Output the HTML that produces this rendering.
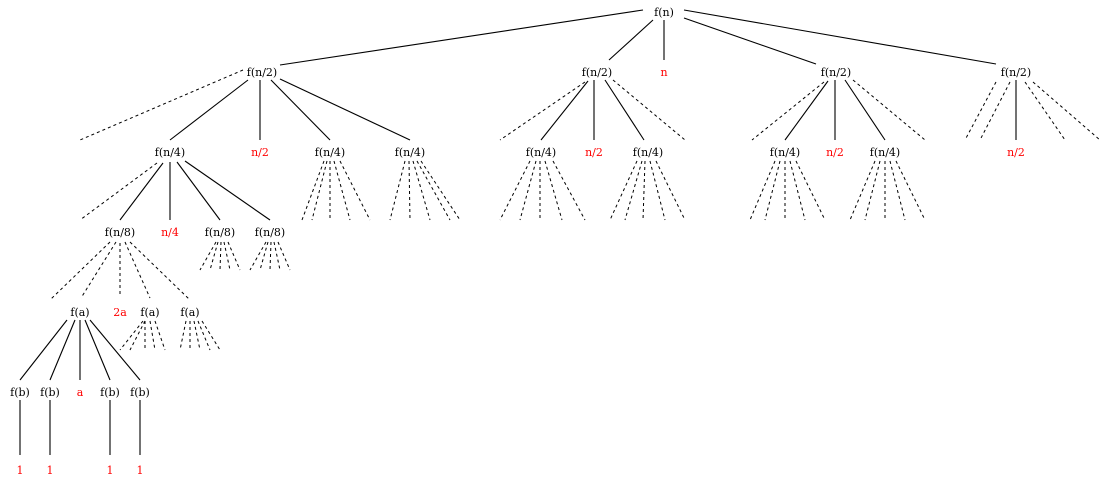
<!DOCTYPE html>
<html><head><meta charset="utf-8"><style>
body{margin:0;background:#fff}
svg text{font-family:"DejaVu Serif","Liberation Serif",serif;font-size:11px;text-anchor:middle;fill:#000}
svg text.r{fill:#f00}
line{stroke:#000;stroke-width:1.1}
line.d{stroke-dasharray:3,3;stroke-width:1}
</style></head><body>
<svg width="1102" height="480" viewBox="0 0 1102 480" xmlns="http://www.w3.org/2000/svg">
<!-- root -->
<text x="664" y="16">f(n)</text>
<line x1="643" y1="10" x2="280" y2="65"/>
<line x1="653" y1="20" x2="609" y2="60"/>
<line x1="664" y1="20" x2="664" y2="60"/>
<line x1="684" y1="18" x2="816" y2="64"/>
<line x1="684" y1="10" x2="996" y2="64"/>
<!-- level 1 -->
<text x="262" y="76">f(n/2)</text>
<text x="597" y="76">f(n/2)</text>
<text x="664" y="76" class="r">n</text>
<text x="836" y="76">f(n/2)</text>
<text x="1016" y="76">f(n/2)</text>
<!-- left f(n/2) -->
<line class="d" x1="243" y1="70" x2="80" y2="140"/>
<line x1="248" y1="80" x2="170" y2="140"/>
<line x1="260" y1="80" x2="260" y2="140"/>
<line x1="271" y1="80" x2="330" y2="140"/>
<line x1="280" y1="79" x2="410" y2="140"/>
<text x="170" y="156">f(n/4)</text>
<text x="260" y="156" class="r">n/2</text>
<text x="330" y="156">f(n/4)</text>
<text x="410" y="156">f(n/4)</text>
<!-- f(n/4) 330 fan -->
<line class="d" x1="324" y1="161" x2="302" y2="220"/>
<line class="d" x1="327" y1="161" x2="312" y2="220"/>
<line class="d" x1="330" y1="161" x2="330" y2="220"/>
<line class="d" x1="334" y1="161" x2="350" y2="220"/>
<line class="d" x1="340" y1="161" x2="370" y2="220"/>
<!-- f(n/4) 410 fan -->
<line class="d" x1="405" y1="161" x2="390" y2="220"/>
<line class="d" x1="409" y1="161" x2="410" y2="220"/>
<line class="d" x1="413" y1="161" x2="430" y2="220"/>
<line class="d" x1="417" y1="161" x2="450" y2="220"/>
<line class="d" x1="421" y1="161" x2="460" y2="220"/>
<!-- f(n/4) 170 -->
<line class="d" x1="157" y1="163" x2="80" y2="220"/>
<line x1="163" y1="163" x2="120" y2="220"/>
<line x1="170" y1="162" x2="170" y2="220"/>
<line x1="177" y1="162" x2="220" y2="220"/>
<line x1="185" y1="161" x2="270" y2="220"/>
<text x="120" y="236">f(n/8)</text>
<text x="170" y="236" class="r">n/4</text>
<text x="220" y="236">f(n/8)</text>
<text x="270" y="236">f(n/8)</text>
<!-- f(n/8) 220 / 270 fans -->
<line class="d" x1="216" y1="242" x2="200" y2="270"/>
<line class="d" x1="218" y1="242" x2="210" y2="270"/>
<line class="d" x1="221" y1="242" x2="220" y2="270"/>
<line class="d" x1="224" y1="242" x2="230" y2="270"/>
<line class="d" x1="228" y1="242" x2="240" y2="270"/>
<line class="d" x1="266" y1="242" x2="250" y2="270"/>
<line class="d" x1="268" y1="242" x2="260" y2="270"/>
<line class="d" x1="271" y1="242" x2="270" y2="270"/>
<line class="d" x1="274" y1="242" x2="280" y2="270"/>
<line class="d" x1="278" y1="242" x2="290" y2="270"/>
<!-- f(n/8) 120 fan -->
<line class="d" x1="110" y1="242" x2="51" y2="299"/>
<line class="d" x1="116" y1="242" x2="81" y2="298"/>
<line class="d" x1="120" y1="243" x2="120" y2="297"/>
<line class="d" x1="125" y1="242" x2="150" y2="298"/>
<line class="d" x1="130" y1="242" x2="190" y2="300"/>
<text x="80" y="316">f(a)</text>
<text x="120" y="316" class="r">2a</text>
<text x="150" y="316">f(a)</text>
<text x="190" y="316">f(a)</text>
<!-- f(a) 150 / 190 fans -->
<line class="d" x1="143" y1="321" x2="120" y2="350"/>
<line class="d" x1="145" y1="321" x2="130" y2="350"/>
<line class="d" x1="145" y1="321" x2="145" y2="350"/>
<line class="d" x1="150" y1="321" x2="155" y2="350"/>
<line class="d" x1="155" y1="321" x2="165" y2="350"/>
<line class="d" x1="186" y1="321" x2="180" y2="350"/>
<line class="d" x1="190" y1="321" x2="190" y2="350"/>
<line class="d" x1="194" y1="321" x2="200" y2="350"/>
<line class="d" x1="198" y1="321" x2="210" y2="350"/>
<line class="d" x1="202" y1="321" x2="220" y2="350"/>
<!-- f(a) 80 -->
<line x1="67" y1="320" x2="20" y2="380"/>
<line x1="75" y1="320" x2="50" y2="380"/>
<line x1="80" y1="320" x2="80" y2="380"/>
<line x1="85" y1="320" x2="110" y2="380"/>
<line x1="90" y1="320" x2="140" y2="380"/>
<text x="20" y="396">f(b)</text>
<text x="50" y="396">f(b)</text>
<text x="80" y="396" class="r">a</text>
<text x="110" y="396">f(b)</text>
<text x="140" y="396">f(b)</text>
<line x1="20" y1="400" x2="20" y2="455"/>
<line x1="50" y1="400" x2="50" y2="455"/>
<line x1="110" y1="400" x2="110" y2="455"/>
<line x1="140" y1="400" x2="140" y2="455"/>
<text x="20" y="474" class="r">1</text>
<text x="50" y="474" class="r">1</text>
<text x="110" y="474" class="r">1</text>
<text x="140" y="474" class="r">1</text>
<!-- middle f(n/2) 597 -->
<line class="d" x1="585" y1="82" x2="500" y2="140"/>
<line x1="588" y1="81" x2="541" y2="140"/>
<line x1="594" y1="80" x2="594" y2="140"/>
<line x1="605" y1="80" x2="644" y2="140"/>
<line class="d" x1="613" y1="80" x2="685" y2="140"/>
<text x="541" y="156">f(n/4)</text>
<text x="594" y="156" class="r">n/2</text>
<text x="648" y="156">f(n/4)</text>
<line class="d" x1="530" y1="161" x2="500" y2="220"/>
<line class="d" x1="536" y1="161" x2="520" y2="220"/>
<line class="d" x1="540" y1="161" x2="540" y2="220"/>
<line class="d" x1="545" y1="161" x2="562" y2="220"/>
<line class="d" x1="553" y1="161" x2="585" y2="220"/>
<line class="d" x1="637" y1="161" x2="610" y2="220"/>
<line class="d" x1="642" y1="161" x2="625" y2="220"/>
<line class="d" x1="645" y1="161" x2="643" y2="220"/>
<line class="d" x1="650" y1="161" x2="665" y2="220"/>
<line class="d" x1="656" y1="161" x2="685" y2="220"/>
<!-- right f(n/2) 836 -->
<line class="d" x1="824" y1="82" x2="752" y2="140"/>
<line x1="828" y1="81" x2="785" y2="140"/>
<line x1="835" y1="80" x2="835" y2="140"/>
<line x1="845" y1="80" x2="885" y2="140"/>
<line class="d" x1="853" y1="80" x2="925" y2="140"/>
<text x="785" y="156">f(n/4)</text>
<text x="835" y="156" class="r">n/2</text>
<text x="885" y="156">f(n/4)</text>
<line class="d" x1="775" y1="161" x2="750" y2="220"/>
<line class="d" x1="780" y1="161" x2="765" y2="220"/>
<line class="d" x1="785" y1="161" x2="785" y2="220"/>
<line class="d" x1="790" y1="161" x2="805" y2="220"/>
<line class="d" x1="796" y1="161" x2="825" y2="220"/>
<line class="d" x1="875" y1="161" x2="850" y2="220"/>
<line class="d" x1="880" y1="161" x2="865" y2="220"/>
<line class="d" x1="885" y1="161" x2="885" y2="220"/>
<line class="d" x1="890" y1="161" x2="905" y2="220"/>
<line class="d" x1="896" y1="161" x2="925" y2="220"/>
<!-- far right f(n/2) 1016 -->
<line class="d" x1="996" y1="82" x2="965" y2="140"/>
<line class="d" x1="1010" y1="82" x2="980" y2="140"/>
<line x1="1016" y1="80" x2="1016" y2="140"/>
<line class="d" x1="1025" y1="82" x2="1065" y2="140"/>
<line class="d" x1="1033" y1="82" x2="1100" y2="140"/>
<text x="1016" y="156" class="r">n/2</text>
</svg>
</body></html>
